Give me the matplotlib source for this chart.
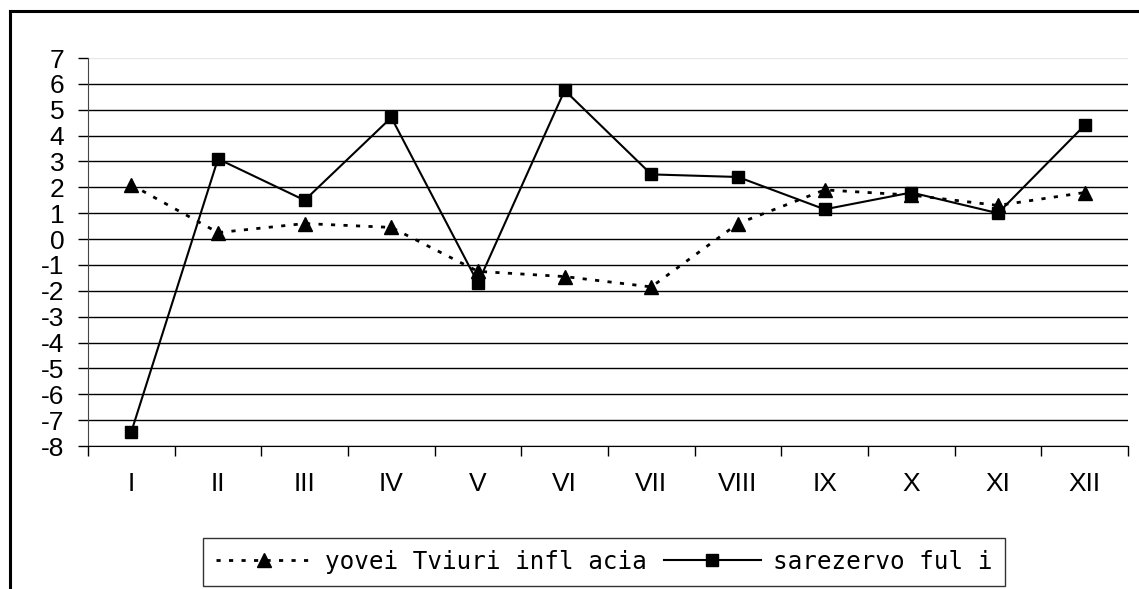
import matplotlib
matplotlib.use("Agg")
import matplotlib.pyplot as plt
from matplotlib.lines import Line2D
from matplotlib import font_manager

categories = ["I", "II", "III", "IV", "V", "VI", "VII", "VIII", "IX", "X", "XI", "XII"]
inflation = [2.1, 0.25, 0.6, 0.45, -1.25, -1.45, -1.85, 0.6, 1.9, 1.7, 1.3, 1.8]
money_supply = [-7.45, 3.1, 1.5, 4.7, -1.7, 5.75, 2.5, 2.4, 1.15, 1.8, 1.0, 4.4]
yticks = list(range(-8, 8))
label_infl = "yovei Tviuri infl acia"
label_money = "sarezervo ful i"

names = {f.name for f in font_manager.fontManager.ttflist}
main_font = "Liberation Sans" if "Liberation Sans" in names else "DejaVu Sans"
leg_font = "DejaVu Sans Mono"

W, H = 1139, 589
fig = plt.figure(figsize=(W / 100, H / 100), dpi=100)
fig.patch.set_facecolor("white")

# outer chart frame
fig.add_artist(Line2D([10 / W, 1.0], [1 - 11 / H, 1 - 11 / H], color="black", lw=2.2))
fig.add_artist(Line2D([10 / W, 10 / W], [0, 1 - 11 / H], color="black", lw=2.2))

ax = fig.add_axes([88 / W, (H - 446) / H, (1128 - 88) / W, (446 - 58) / H])
x = list(range(len(categories)))

for v in yticks[:-1]:
    ax.axhline(v, color="black", lw=1.0, zorder=1)
ax.axhline(7, color="#e8e8e8", lw=1.0, zorder=1)

ax.plot(x, inflation, color="black", lw=2.0, linestyle=(0, (1.5, 3)),
        marker="^", markersize=10.5, label=label_infl, zorder=3)
ax.plot(x, money_supply, color="black", lw=1.5, linestyle="-",
        marker="s", markersize=9, label=label_money, zorder=4)

ax.set_xlim(-0.5, len(categories) - 0.5)
ax.set_ylim(-8, 7)
ax.set_yticks(yticks)
ax.set_yticklabels([str(v) for v in yticks], fontsize=19, family=main_font)
ax.set_xticks(x)
ax.set_xticklabels(categories, fontsize=19, family=main_font)
ax.set_xticks([i - 0.5 for i in range(len(categories) + 1)], minor=True)
ax.tick_params(axis="x", which="major", length=0, pad=19)
ax.tick_params(axis="x", which="minor", length=7, width=1, color="black", direction="out")
ax.tick_params(axis="y", length=7, width=1, color="black", direction="out", pad=10)

for s in ["top", "right"]:
    ax.spines[s].set_visible(False)
ax.spines["left"].set_color("#444444")
ax.spines["bottom"].set_color("black")

leg = fig.legend(loc="center", bbox_to_anchor=(604 / W, 1 - 562 / H), ncol=2,
                 frameon=True, fancybox=False, edgecolor="black",
                 prop={"family": leg_font, "size": 17.5}, handlelength=4.0,
                 columnspacing=0.7, handletextpad=0.5, borderpad=0.5,
                 borderaxespad=0)
leg.get_frame().set_linewidth(1.0)

fig.savefig("out.png", dpi=100)
